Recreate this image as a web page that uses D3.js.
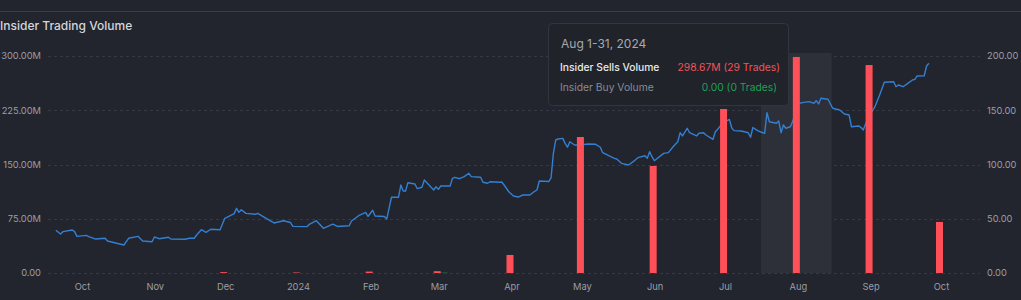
<!DOCTYPE html>
<html><head><meta charset="utf-8">
<script src="https://cdn.jsdelivr.net/npm/d3@7"></script>
<style>
html,body{margin:0;padding:0;background:#22252d;overflow:hidden;}
svg{display:block;font-family:Inter,"Noto Sans",sans-serif;}
</style></head>
<body><svg id="c" width="1021" height="300"></svg>
<script>
const title = "Insider Trading Volume";
const leftTicks = [0, 75, 150, 225, 300];
const rightTicks = [0, 50, 100, 150, 200];
const monthTicks = ["2023-10-01","2023-11-01","2023-12-01","2024-01-01","2024-02-01","2024-03-01","2024-04-01","2024-05-01","2024-06-01","2024-07-01","2024-08-01","2024-09-01","2024-10-01"];
const monthLabels = ["Oct","Nov","Dec","2024","Feb","Mar","Apr","May","Jun","Jul","Aug","Sep","Oct"];

const barMonths = ["2023-12-01","2024-01-01","2024-02-01","2024-03-01","2024-04-01","2024-05-01","2024-06-01","2024-07-01","2024-08-01","2024-09-01","2024-10-01"];
const sellVolumes = [1.2, 0.7, 2.0, 2.5, 24.9, 188, 148, 226.7, 298.67, 287.5, 70.5];
const buyVolumes  = [0, 0, 0, 0.4, 0, 0, 0, 0, 0, 0, 0];

const lineDates = ["2023-09-19","2023-09-21","2023-09-22","2023-09-26","2023-09-27","2023-09-28","2023-10-02","2023-10-03","2023-10-06","2023-10-10","2023-10-11","2023-10-18","2023-10-20","2023-10-24","2023-10-26","2023-10-30","2023-10-31","2023-11-02","2023-11-06","2023-11-07","2023-11-13","2023-11-15","2023-11-17","2023-11-18","2023-11-20","2023-11-22","2023-11-24","2023-11-28","2023-11-30","2023-12-04","2023-12-05","2023-12-06","2023-12-07","2023-12-09","2023-12-13","2023-12-14","2023-12-20","2023-12-21","2023-12-25","2023-12-28","2023-12-29","2024-01-04","2024-01-05","2024-01-08","2024-01-11","2024-01-15","2024-01-17","2024-01-22","2024-01-23","2024-01-26","2024-01-29","2024-01-30","2024-02-01","2024-02-02","2024-02-06","2024-02-07","2024-02-09","2024-02-12","2024-02-13","2024-02-14","2024-02-15","2024-02-16","2024-02-19","2024-02-20","2024-02-22","2024-02-23","2024-02-27","2024-02-28","2024-02-29","2024-03-01","2024-03-05","2024-03-06","2024-03-07","2024-03-09","2024-03-11","2024-03-13","2024-03-14","2024-03-18","2024-03-19","2024-03-21","2024-03-22","2024-03-26","2024-03-27","2024-03-28","2024-03-30","2024-04-01","2024-04-03","2024-04-05","2024-04-08","2024-04-10","2024-04-11","2024-04-12","2024-04-16","2024-04-17","2024-04-18","2024-04-19","2024-04-20","2024-04-22","2024-04-23","2024-04-24","2024-04-25","2024-04-27","2024-04-29","2024-05-03","2024-05-06","2024-05-08","2024-05-09","2024-05-14","2024-05-15","2024-05-17","2024-05-20","2024-05-22","2024-05-24","2024-05-27","2024-05-28","2024-05-29","2024-05-30","2024-05-31","2024-06-04","2024-06-06","2024-06-08","2024-06-10","2024-06-11","2024-06-12","2024-06-14","2024-06-15","2024-06-18","2024-06-19","2024-06-21","2024-06-22","2024-06-25","2024-06-26","2024-06-27","2024-06-29","2024-07-02","2024-07-03","2024-07-04","2024-07-07","2024-07-10","2024-07-11","2024-07-12","2024-07-14","2024-07-15","2024-07-17","2024-07-18","2024-07-19","2024-07-22","2024-07-23","2024-07-24","2024-07-25","2024-07-26","2024-07-28","2024-07-30","2024-07-31","2024-08-02","2024-08-05","2024-08-07","2024-08-08","2024-08-09","2024-08-10","2024-08-13","2024-08-15","2024-08-18","2024-08-20","2024-08-22","2024-08-23","2024-08-26","2024-08-27","2024-08-28","2024-08-30","2024-09-02","2024-09-04","2024-09-06","2024-09-10","2024-09-11","2024-09-12","2024-09-14","2024-09-16","2024-09-18","2024-09-19","2024-09-20","2024-09-23","2024-09-24","2024-09-25"];
const linePrices = [39.4,35.9,38.1,39.6,38.1,33.8,34.7,33.5,31.3,32.0,29.5,25.8,32.0,33.8,29.5,28.8,33.2,31.6,32.9,31.3,31.1,32.0,32.0,35.0,39.9,37.5,40.3,39.9,50.4,54.7,59.6,55.9,58.3,55.0,54.1,55.0,47.3,46.1,48.2,46.5,43.0,42.7,44.9,48.2,41.2,45.0,42.9,43.6,47.9,52.8,55.8,52.1,57.8,52.5,52.1,49.8,69.8,69.8,81.1,75.6,75.6,83.2,82.0,77.7,79.0,85.7,76.5,79.5,77.1,80.2,80.2,87.3,88.2,86.9,88.8,91.9,88.8,88.2,83.6,82.7,84.1,83.6,83.9,81.1,74.9,71.0,70.0,71.9,71.9,75.3,76.5,84.8,84.3,87.6,110.3,122.6,123.5,124.1,119.5,115.9,121.0,118.0,118.0,118.9,118.6,115.9,110.9,105.7,105.1,101.1,99.5,102.6,106.3,108.1,105.7,111.8,107.2,103.5,110.3,110.9,116.4,121.0,129.3,126.3,133.4,129.3,126.3,128.8,129.3,127.2,123.2,130.2,132.4,138.0,141.5,133.6,131.2,130.9,129.3,125.1,134.1,131.2,130.2,128.8,147.7,139.4,138.0,140.1,129.3,136.4,133.4,134.8,145.6,155.8,157.0,157.9,156.4,158.8,155.8,161.0,160.1,151.8,150.2,146.5,145.6,134.8,135.5,134.3,131.8,142.6,153.3,164.1,175.8,176.3,171.7,173.3,171.7,174.8,177.9,178.5,181.6,181.8,190.8,193.3];

const tipTitle = "Aug 1-31, 2024";
const tipRows = [["Insider Sells Volume","298.67M (29 Trades)"],["Insider Buy Volume","0.00 (0 Trades)"]];
const hoverMonth = "2024-08-01";

const parse = d3.utcParse("%Y-%m-%d");
const svg = d3.select("#c");
const W = 1021;
const tickFont = 9.3;

const x = d3.scaleUtc().domain([parse("2023-10-01"), parse("2024-10-01")]).range([84, 943]);
const yL = d3.scaleLinear().domain([0, 300]).range([273, 56]);
const yR = d3.scaleLinear().domain([0, 200]).range([273, 56]);
const gridX0 = 48, gridX1 = 980;

// top separator
svg.append("line").attr("x1",0).attr("x2",W).attr("y1",11.5).attr("y2",11.5)
  .attr("stroke","#3a3e48").attr("stroke-width",1.2);
svg.append("text").attr("x",0).attr("y",30).text(title)
  .attr("fill","#d4d6db").attr("font-size",12).attr("font-weight",500);

// gridlines
svg.append("g").selectAll("line").data(leftTicks).join("line")
  .attr("x1",gridX0).attr("x2",gridX1)
  .attr("y1",d=>Math.round(yL(d))+0.5).attr("y2",d=>Math.round(yL(d))+0.5)
  .attr("stroke","#353943").attr("stroke-dasharray","3,3");

function styleAxis(g){
  g.select(".domain").remove();
  g.selectAll("text").attr("fill","#9a9ea7").attr("font-size",tickFont).attr("font-family","Inter,sans-serif");
}
// left axis
svg.append("g").attr("transform","translate(41,0)")
  .call(d3.axisLeft(yL).tickValues(leftTicks).tickSize(0).tickPadding(0)
    .tickFormat(d=> d===0 ? "0.00" : d3.format(".2f")(d)+"M"))
  .call(styleAxis);

// right axis
svg.append("g").attr("transform","translate(987,0)")
  .call(d3.axisRight(yR).tickValues(rightTicks).tickSize(0).tickPadding(0)
    .tickFormat(d3.format(".2f")))
  .call(styleAxis);

// x axis
svg.append("g").attr("transform","translate(-2,283)")
  .call(d3.axisBottom(x).tickValues(monthTicks.map(parse)).tickSize(0).tickPadding(0)
    .tickFormat((d,i)=>monthLabels[i]))
  .call(styleAxis);

// hover band
const hm = parse(hoverMonth);
const hmNext = d3.utcMonth.offset(hm, 1);
const bandW = x(hmNext) - x(hm) - 2;
svg.append("rect").attr("x", x(hm) - 3.5 - bandW/2).attr("width", bandW)
  .attr("y", yL(300) - 3).attr("height", yL(0) - yL(300) + 3)
  .attr("fill","#2d3038");

// price line
const pts = lineDates.map((d,i)=>({d:parse(d), v:linePrices[i]}));
svg.append("path").datum(pts)
  .attr("d", d3.line().x(p=>x(p.d)).y(p=>yR(p.v)))
  .attr("fill","none").attr("stroke","#347fd0").attr("stroke-width",1.4)
  .attr("stroke-linejoin","round");

// bars
const bw = 7;
const bars = barMonths.map((m,i)=>({d:parse(m), s:sellVolumes[i], b:buyVolumes[i]}));
svg.append("g").selectAll("rect").data(bars).join("rect")
  .attr("x", d=>x(d.d) - bw).attr("width", bw)
  .attr("y", d=>yL(d.s)).attr("height", d=>yL(0)-yL(d.s))
  .attr("fill","#ff4f58");
svg.append("g").selectAll("rect").data(bars.filter(d=>d.b>0)).join("rect")
  .attr("x", d=>x(d.d)).attr("width", bw)
  .attr("y", d=>yL(d.b)).attr("height", d=>yL(0)-yL(d.b))
  .attr("fill","#1e9e55");

// tooltip
const tip = svg.append("g").attr("transform","translate(548,23)");
tip.append("rect").attr("x",0.5).attr("y",0.5).attr("width",240).attr("height",82).attr("rx",4)
  .attr("fill","#20232a").attr("stroke","#32353e");
tip.append("text").attr("x",13).attr("y",25).text(tipTitle)
  .attr("fill","#a6a9b1").attr("font-size",12);
const rowY = [48, 68];
const labelCol = ["#e8e9ec","#878b94"];
const valCol = ["#f0545c","#1fa055"];
tipRows.forEach((r,i)=>{
  tip.append("text").attr("x",12).attr("y",rowY[i]).text(r[0])
    .attr("fill",labelCol[i]).attr("font-size",10.3).attr("font-weight", i===0?500:400);
  tip.append("text").attr("x", i===0?232:229).attr("y",rowY[i]).attr("text-anchor","end").text(r[1])
    .attr("fill",valCol[i]).attr("font-size",10.3);
});
</script></body></html>
